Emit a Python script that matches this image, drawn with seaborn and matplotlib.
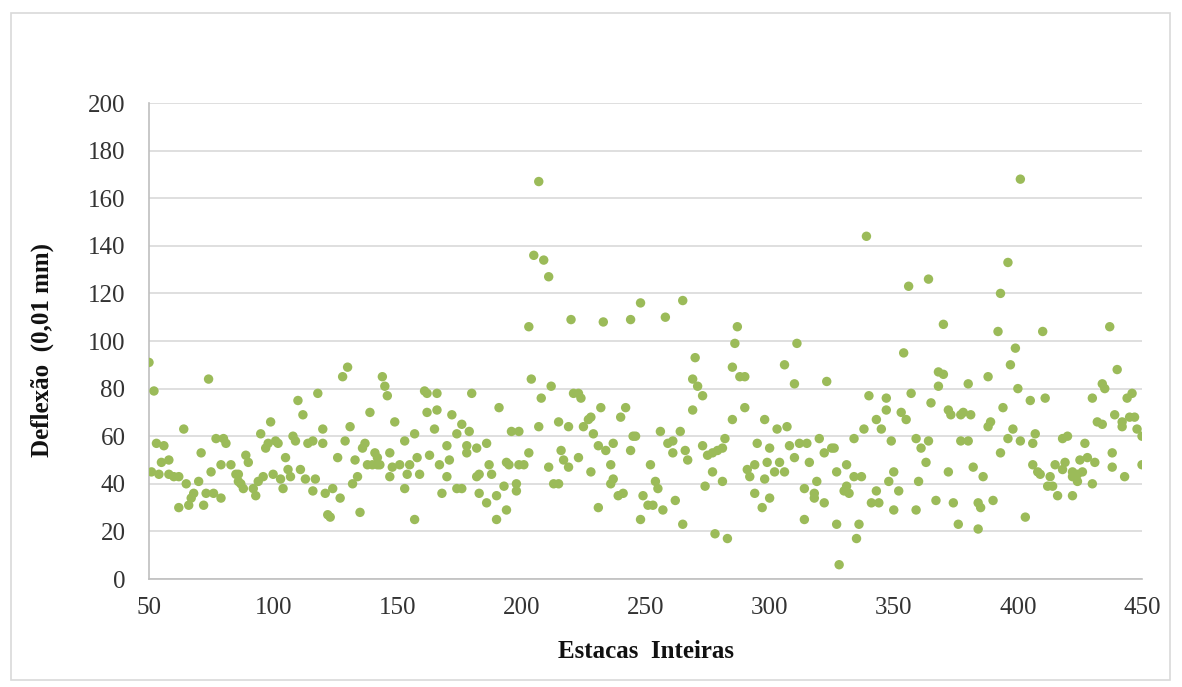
import matplotlib
matplotlib.use("Agg")
import matplotlib.pyplot as plt
import seaborn as sns
import pandas as pd
from matplotlib.patches import Rectangle

# Deflection survey: station (integer) and measured deflection (0.01 mm)
estaca = [
    50, 52, 74, 64, 53, 56, 55, 58, 51, 54, 58, 60, 62, 65, 68, 67, 62, 66, 72, 70,
    71, 73, 76, 79, 75, 79, 77, 80, 81, 83, 85, 86, 86, 87, 88, 92, 93, 89, 90, 94,
    96, 95, 97, 98, 99,
    101, 102, 100, 103, 104, 105, 110, 112, 118, 108, 109, 106, 107, 111, 113, 116, 117, 114, 116, 120,
    120, 121, 124, 122, 123, 127, 126, 129, 131, 128, 130, 133, 132, 134, 135, 137, 136, 139, 138, 140,
    142, 143, 141, 142, 144, 145, 146, 147, 149, 148, 147,
    151, 153, 153, 154, 155, 157, 157, 158, 159, 161, 162, 162, 166, 163, 165, 166, 167, 168, 170, 170,
    171, 172, 174, 174, 176, 176, 178, 178, 179, 180, 182, 183, 182, 186, 183, 186, 187, 188, 190, 190,
    191, 193, 194, 194, 195, 196, 198, 198, 199, 199,
    207, 205, 209, 211, 203, 220, 233, 244, 248, 204, 212, 208, 221, 223, 224, 232, 242, 240, 207, 215,
    219, 225, 227, 228, 229, 245, 246, 237, 231, 234, 244, 203, 201, 216, 217, 219, 223, 211, 228, 236,
    237, 236, 213, 215, 241, 239, 231, 249, 248,
    265, 258, 287, 286, 270, 285, 288, 290, 269, 271, 273, 269, 290, 285, 298, 256, 264, 259, 261, 261,
    266, 267, 273, 275, 277, 279, 281, 282, 295, 300, 252, 294, 291, 292, 298, 277, 281, 274, 254, 255,
    251, 253, 257, 262, 294, 297, 300, 265, 278, 283,
    311, 306, 310, 323, 340, 347, 347, 343, 345, 338, 303, 307, 320, 334, 349, 312, 315, 308, 322, 325,
    326, 299, 304, 302, 306, 310, 316, 327, 331, 334, 337, 350, 348, 319, 314, 331, 330, 332, 318, 318,
    322, 343, 341, 344, 350, 314, 327, 336, 335, 328, 339,
    396, 364, 356, 393, 370, 392, 354, 399, 397, 368, 370, 368, 380, 388, 400, 357, 365, 394, 353, 355,
    372, 373, 377, 378, 381, 388, 389, 398, 359, 361, 364, 377, 380, 396, 401, 393, 363, 372, 382, 386,
    360, 352, 367, 374, 384, 385, 390, 359, 376, 384,
    401, 410, 437, 440, 434, 435, 405, 411, 430, 444, 446, 439, 432, 434, 442, 442, 445, 447, 448, 450,
    406, 407, 418, 420, 427, 406, 408, 409, 415, 418, 419, 422, 422, 424, 426, 425, 428, 431, 413, 412,
    414, 424, 430, 416, 422, 438, 438, 443, 450, 403,
]

deflexao = [
    91, 79, 84, 63, 57, 56, 49, 50, 45, 44, 44, 43, 43, 40, 36, 34, 30, 31, 31, 41,
    53, 36, 36, 34, 45, 48, 59, 59, 57, 48, 44, 44, 41, 40, 38, 38, 35, 52, 49, 41,
    43, 61, 55, 57, 66,
    58, 57, 44, 42, 38, 51, 75, 69, 78, 60, 58, 46, 43, 46, 42, 37, 42, 57, 58, 57,
    63, 36, 38, 27, 26, 34, 51, 58, 64, 85, 89, 50, 40, 43, 28, 57, 55, 70, 48, 48,
    48, 48, 53, 51, 85, 81, 77, 53, 66, 47, 43,
    48, 58, 38, 44, 48, 61, 25, 51, 44, 79, 78, 70, 71, 52, 63, 78, 48, 36, 43, 56,
    50, 69, 61, 38, 38, 65, 56, 53, 62, 78, 43, 44, 55, 57, 36, 32, 48, 44, 35, 25,
    72, 39, 29, 49, 48, 62, 37, 40, 62, 48,
    167, 136, 134, 127, 106, 109, 108, 109, 116, 84, 81, 76, 78, 78, 76, 72, 72, 68, 64, 66,
    64, 64, 67, 68, 61, 60, 60, 57, 56, 54, 54, 53, 48, 54, 50, 47, 51, 47, 45, 48,
    42, 40, 40, 40, 36, 35, 30, 35, 25,
    117, 110, 106, 99, 93, 89, 85, 85, 84, 81, 77, 71, 72, 67, 67, 62, 62, 57, 58, 53,
    54, 50, 56, 52, 53, 54, 55, 59, 57, 55, 48, 48, 46, 43, 42, 45, 41, 39, 41, 38,
    31, 31, 29, 33, 36, 30, 34, 23, 19, 17,
    99, 90, 82, 83, 77, 76, 71, 67, 63, 63, 63, 64, 59, 59, 58, 57, 57, 56, 53, 55,
    55, 49, 49, 45, 45, 51, 49, 45, 48, 43, 43, 45, 41, 41, 38, 39, 37, 36, 36, 34,
    32, 37, 32, 32, 29, 25, 23, 23, 17, 6, 144,
    133, 126, 123, 120, 107, 104, 95, 97, 90, 87, 86, 81, 82, 85, 80, 78, 74, 72, 70, 67,
    71, 69, 69, 70, 69, 64, 66, 63, 59, 55, 58, 58, 58, 59, 58, 53, 49, 45, 47, 43,
    41, 37, 33, 32, 32, 30, 33, 29, 23, 21,
    168, 104, 106, 88, 82, 80, 75, 76, 76, 76, 78, 69, 66, 65, 66, 64, 68, 68, 63, 60,
    57, 61, 59, 60, 57, 48, 45, 44, 48, 46, 49, 45, 43, 44, 45, 50, 51, 49, 43, 39,
    39, 41, 40, 35, 35, 53, 47, 43, 48, 26,
]

df = pd.DataFrame({"Estaca": estaca, "Deflexao": deflexao})

sns.set_theme(style="white")
plt.rcParams["font.family"] = ["Liberation Serif", "DejaVu Serif"]

fig = plt.figure(figsize=(11.82, 6.87), dpi=100)
fig.patch.set_facecolor("white")

# chart-area border
fig.add_artist(Rectangle((11 / 1182, 1 - 680 / 687), 1159 / 1182, 667 / 687,
                         transform=fig.transFigure, fill=False,
                         edgecolor="#d9d9d9", linewidth=1.2))

ax = fig.add_axes([149 / 1182, 1 - 579 / 687, (1142 - 149) / 1182, (579 - 103) / 687])

sns.scatterplot(data=df, x="Estaca", y="Deflexao", ax=ax, color="#9BBB59",
                s=46, edgecolor="none", linewidth=0, zorder=3)

ax.set_xlim(50, 450)
ax.set_ylim(0, 200)
ax.set_xticks(range(50, 451, 50))
ax.set_yticks(range(0, 201, 20))
ax.yaxis.grid(True, color="#d9d9d9", linewidth=1.2)
ax.xaxis.grid(False)
ax.set_axisbelow(True)

for side in ("top", "right"):
    ax.spines[side].set_visible(False)
for side in ("left", "bottom"):
    ax.spines[side].set_color("#bfbfbf")
    ax.spines[side].set_linewidth(1.2)

ax.tick_params(axis="both", length=0, labelsize=18, colors="#333333")
ax.tick_params(axis="x", pad=13)
ax.tick_params(axis="y", pad=17)

ax.set_xlabel("Estacas  Inteiras", fontsize=18, fontweight="bold", color="#111111",
              va="center", ha="center")
ax.set_ylabel("Deflexão  (0,01 mm)", fontsize=18, fontweight="bold", color="#111111",
              va="center", ha="center")
ax.xaxis.set_label_coords(0.5, (579 - 651) / 476)
ax.yaxis.set_label_coords((42 - 149) / 993, (579 - 350) / 476)

fig.savefig("out.png", dpi=100, facecolor="white")
